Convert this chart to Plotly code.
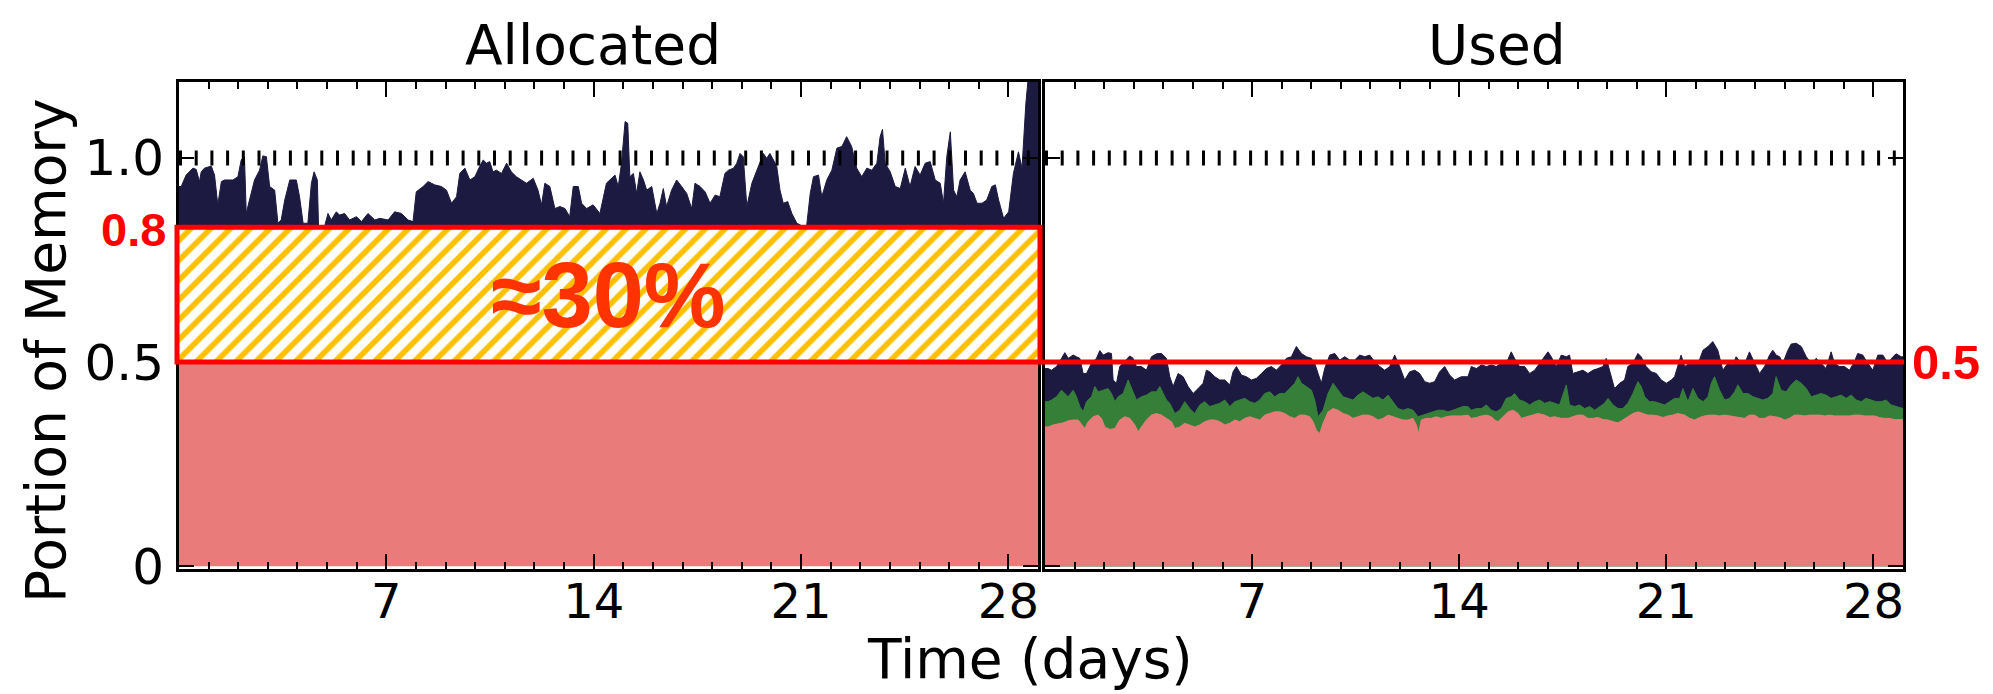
import plotly.graph_objects as go

# ---------------- data ----------------
# Allocated panel: total allocated memory (navy)
ALLOC_DAYS = [0.0, 0.075, 0.24, 0.47, 0.58, 0.69, 0.75, 0.86, 1.09, 1.20, 1.31,
              1.43, 1.54, 1.82, 1.99, 2.10, 2.21, 2.27, 2.38, 2.55, 2.72,
              2.83, 2.95, 3.06, 3.23, 3.34, 3.45, 3.57, 3.74, 3.96, 4.07,
              4.19, 4.35, 4.47, 4.56, 4.67, 4.71, 4.92, 5.03, 5.14, 5.31,
              5.42, 5.59, 5.76, 5.99, 6.16, 6.38, 6.61, 6.78, 7.06, 7.28,
              7.51, 7.73, 7.90, 8.01, 8.24, 8.41, 8.63, 8.86, 9.03, 9.20,
              9.37, 9.48, 9.65, 9.82, 9.99, 10.15, 10.27, 10.38, 10.49, 10.60,
              10.72, 10.89, 11.06, 11.22, 11.39, 11.56, 11.73, 11.96, 12.12, 12.24,
              12.35, 12.52, 12.69, 12.86, 13.03, 13.19, 13.31, 13.48, 13.59, 13.76,
              13.98, 14.21, 14.43,
              14.72, 14.83, 14.94, 15.06, 15.15, 15.22, 15.34, 15.45, 15.56, 15.68,
              15.79, 15.96, 16.13, 16.24, 16.35, 16.46, 16.63, 16.80, 16.97, 17.14,
              17.31, 17.42, 17.59, 17.76, 17.93, 18.10, 18.26, 18.43, 18.55, 18.72,
              18.83, 18.94, 19.05, 19.17, 19.34, 19.50, 19.62, 19.73, 19.84, 19.95,
              20.07, 20.18, 20.29, 20.40, 20.55, 20.69, 20.86, 21.02, 21.19, 21.31,
              21.42, 21.59, 21.70, 21.87, 22.04, 22.21, 22.38, 22.54, 22.71, 22.88,
              23.05, 23.22, 23.39, 23.56, 23.67, 23.75, 23.84, 24.01, 24.18, 24.35,
              24.52, 24.68, 24.85, 25.02, 25.19, 25.36, 25.53, 25.70, 25.81, 25.92,
              26.04, 26.15, 26.26, 26.37, 26.54, 26.71, 26.82, 26.94, 27.11, 27.27,
              27.44, 27.56, 27.67, 27.84, 28.01, 28.17, 28.34, 28.46, 28.59, 28.74,
              28.91, 29.0]
ALLOC_TOTAL = [0.930, 0.930, 0.958, 0.975, 0.972, 0.942, 0.966, 0.975, 0.980, 0.958, 0.885,
               0.942, 0.946, 0.946, 0.954, 0.995, 1.003, 0.864, 0.897, 0.946, 0.970,
               1.005, 1.003, 0.930, 0.921, 0.840, 0.848, 0.897, 0.946, 0.946, 0.905,
               0.840, 0.840, 0.938, 0.966, 0.946, 0.834, 0.834, 0.864, 0.848, 0.868,
               0.860, 0.864, 0.848, 0.856, 0.844, 0.864, 0.848, 0.852, 0.848, 0.868,
               0.864, 0.848, 0.844, 0.917, 0.930, 0.942, 0.934, 0.930, 0.921, 0.889,
               0.905, 0.962, 0.975, 0.946, 0.954, 0.979, 0.995, 0.987, 0.991, 0.966,
               0.970, 0.962, 0.987, 0.966, 0.954, 0.946, 0.938, 0.950, 0.921, 0.885,
               0.938, 0.930, 0.876, 0.881, 0.876, 0.856, 0.930, 0.930, 0.889, 0.876,
               0.885, 0.864, 0.938,
               0.958, 0.930, 0.987, 1.089, 1.085, 0.954, 0.962, 0.913, 0.966, 0.946,
               0.921, 0.930, 0.864, 0.889, 0.925, 0.881, 0.921, 0.946, 0.930, 0.913,
               0.876, 0.938, 0.930, 0.917, 0.889, 0.909, 0.905, 0.962, 0.970, 0.975,
               0.987, 1.011, 1.003, 0.881, 0.938, 0.966, 0.991, 1.011, 0.999, 1.011,
               0.995, 0.979, 0.921, 0.889, 0.893, 0.864, 0.840, 0.834, 0.834, 0.913,
               0.954, 0.958, 0.905, 0.946, 0.970, 1.024, 1.028, 1.052, 1.028, 0.975,
               0.954, 0.975, 0.970, 0.987, 1.052, 1.070, 0.987, 0.966, 0.930, 0.925,
               0.975, 0.930, 0.979, 0.958, 0.987, 0.991, 0.946, 0.938, 0.889, 1.003,
               1.064, 0.921, 0.905, 0.946, 0.966, 0.921, 0.913, 0.889, 0.889, 0.897,
               0.930, 0.934, 0.897, 0.852, 0.868, 0.962, 1.015, 0.975, 1.134, 1.25,
               1.25, 1.25]
# Allocated panel: lower (pink) band
ALLOC_BASE_DAYS = [0.0, 29.0]
ALLOC_BASE = [0.5, 0.5]

# Used panel: total (navy)
USED_TOTAL_DAYS = [0.0,
    0.107, 0.220, 0.389, 0.558, 0.670, 0.783, 0.952, 1.064, 1.177, 1.290,
    1.402, 1.571, 1.740, 1.853, 1.965, 2.134, 2.247, 2.303, 2.416, 2.528,
    2.697, 2.866, 2.979, 3.091, 3.260, 3.429, 3.598, 3.767, 3.936, 4.105,
    4.218, 4.330, 4.499, 4.668, 4.837, 5.006, 5.175, 5.344, 5.456, 5.569,
    5.738, 5.907, 6.076, 6.245, 6.357, 6.470, 6.639, 6.808, 6.977, 7.146,
    7.315, 7.483, 7.652, 7.821, 7.990, 8.159, 8.328, 8.497, 8.666, 8.835,
    9.004, 9.116, 9.229, 9.341, 9.454, 9.623, 9.792, 9.961, 10.130, 10.299,
    10.468, 10.637, 10.806, 10.974, 11.143, 11.312, 11.481, 11.650, 11.819, 11.988,
    12.157, 12.326, 12.495, 12.664, 12.833, 13.001, 13.170, 13.339, 13.508, 13.677,
    13.846, 14.071, 14.296,
    14.41, 14.58, 14.75, 14.92, 15.09, 15.25, 15.42, 15.59, 15.70, 15.76,
    15.87, 16.04, 16.21, 16.38, 16.55, 16.72, 16.89, 17.00, 17.11, 17.28,
    17.45, 17.62, 17.73, 17.84, 18.01, 18.18, 18.35, 18.52, 18.69, 18.86,
    18.97, 19.08, 19.25, 19.42, 19.59, 19.70, 19.87, 20.04, 20.15, 20.32,
    20.49, 20.66, 20.83, 21.00, 21.17, 21.28, 21.39, 21.50, 21.62, 21.79,
    21.96, 22.12, 22.24, 22.41, 22.57, 22.74, 22.91, 23.08, 23.25, 23.36,
    23.53, 23.70, 23.81, 23.98, 24.15, 24.32, 24.49, 24.60, 24.71, 24.83,
    24.94, 25.11, 25.22, 25.39, 25.56, 25.73, 25.90, 26.07, 26.23, 26.40,
    26.57, 26.68, 26.85, 27.02, 27.19, 27.36, 27.47, 27.64, 27.81, 27.98,
    28.15, 28.32, 28.49, 28.66, 28.77, 28.94, 29.0]
USED_TOTAL = [0.484,
    0.484, 0.480, 0.489, 0.509, 0.523, 0.509, 0.517, 0.513, 0.509, 0.472,
    0.472, 0.497, 0.509, 0.528, 0.517, 0.523, 0.521, 0.456, 0.448, 0.489,
    0.501, 0.515, 0.509, 0.489, 0.489, 0.480, 0.513, 0.520, 0.521, 0.509,
    0.464, 0.440, 0.472, 0.464, 0.440, 0.423, 0.435, 0.448, 0.480, 0.476,
    0.464, 0.456, 0.456, 0.444, 0.476, 0.489, 0.468, 0.464, 0.456, 0.460,
    0.472, 0.484, 0.489, 0.480, 0.493, 0.509, 0.513, 0.538, 0.521, 0.513,
    0.509, 0.497, 0.472, 0.448, 0.484, 0.517, 0.521, 0.505, 0.513, 0.505,
    0.505, 0.517, 0.513, 0.517, 0.501, 0.489, 0.480, 0.489, 0.517, 0.489,
    0.456, 0.476, 0.480, 0.472, 0.452, 0.448, 0.452, 0.476, 0.489, 0.468,
    0.456, 0.464, 0.464,
    0.489, 0.484, 0.493, 0.489, 0.493, 0.489, 0.497, 0.497, 0.517, 0.525,
    0.509, 0.489, 0.489, 0.472, 0.480, 0.497, 0.517, 0.525, 0.513, 0.489,
    0.517, 0.513, 0.517, 0.472, 0.476, 0.480, 0.472, 0.480, 0.484, 0.489,
    0.509, 0.480, 0.435, 0.448, 0.456, 0.489, 0.497, 0.521, 0.513, 0.489,
    0.476, 0.472, 0.456, 0.448, 0.456, 0.464, 0.489, 0.517, 0.489, 0.497,
    0.497, 0.505, 0.529, 0.538, 0.550, 0.529, 0.480, 0.497, 0.493, 0.513,
    0.497, 0.505, 0.525, 0.497, 0.472, 0.489, 0.517, 0.529, 0.517, 0.513,
    0.497, 0.529, 0.544, 0.546, 0.538, 0.513, 0.497, 0.509, 0.497, 0.484,
    0.525, 0.497, 0.489, 0.489, 0.480, 0.501, 0.521, 0.517, 0.497, 0.480,
    0.517, 0.517, 0.497, 0.513, 0.520, 0.513, 0.513]

# Used panel: middle (green) band top
USED_MID_DAYS = [0.0,
    0.107, 0.220, 0.389, 0.558, 0.670, 0.783, 0.952, 1.064, 1.177, 1.290,
    1.402, 1.571, 1.684, 1.796, 1.965, 2.134, 2.247, 2.359, 2.472, 2.641,
    2.810, 2.922, 3.091, 3.260, 3.429, 3.598, 3.767, 3.880, 3.992, 4.105,
    4.218, 4.387, 4.555, 4.724, 4.893, 5.062, 5.231, 5.400, 5.569, 5.738,
    5.907, 6.076, 6.245, 6.414, 6.583, 6.752, 6.920, 7.089, 7.258, 7.427,
    7.596, 7.765, 7.934, 8.103, 8.272, 8.441, 8.553, 8.666, 8.835, 9.004,
    9.116, 9.229, 9.398, 9.567, 9.736, 9.905, 10.074, 10.243, 10.411, 10.580,
    10.749, 10.918, 11.087, 11.256, 11.425, 11.594, 11.763, 11.932, 12.100, 12.269,
    12.438, 12.607, 12.776, 12.945, 13.114, 13.283, 13.452, 13.621, 13.790, 13.959,
    14.128, 14.296,
    14.41, 14.58, 14.75, 14.92, 15.09, 15.25, 15.42, 15.59, 15.76, 15.87,
    16.04, 16.21, 16.38, 16.55, 16.72, 16.89, 17.06, 17.23, 17.39, 17.62,
    17.73, 17.90, 18.07, 18.24, 18.41, 18.58, 18.75, 18.91, 19.03, 19.20,
    19.37, 19.53, 19.70, 19.87, 20.04, 20.15, 20.27, 20.43, 20.60, 20.77,
    20.94, 21.11, 21.28, 21.45, 21.56, 21.73, 21.90, 22.07, 22.24, 22.41,
    22.52, 22.63, 22.80, 22.97, 23.14, 23.31, 23.42, 23.59, 23.76, 23.93,
    24.09, 24.26, 24.43, 24.60, 24.71, 24.88, 25.05, 25.22, 25.39, 25.56,
    25.73, 25.90, 26.07, 26.23, 26.40, 26.57, 26.74, 26.91, 27.08, 27.25,
    27.42, 27.59, 27.75, 27.92, 28.09, 28.26, 28.43, 28.60, 28.77, 28.94,
    29.0]
USED_MID = [0.403,
    0.403, 0.407, 0.415, 0.431, 0.423, 0.415, 0.431, 0.415, 0.391, 0.378,
    0.403, 0.415, 0.440, 0.427, 0.431, 0.435, 0.423, 0.403, 0.415, 0.423,
    0.456, 0.435, 0.407, 0.415, 0.419, 0.427, 0.427, 0.440, 0.423, 0.407,
    0.399, 0.374, 0.382, 0.403, 0.386, 0.374, 0.395, 0.403, 0.391, 0.395,
    0.399, 0.407, 0.391, 0.403, 0.407, 0.411, 0.403, 0.399, 0.407, 0.423,
    0.427, 0.415, 0.423, 0.423, 0.435, 0.448, 0.464, 0.448, 0.440, 0.431,
    0.407, 0.366, 0.382, 0.423, 0.448, 0.431, 0.415, 0.411, 0.407, 0.419,
    0.427, 0.419, 0.411, 0.415, 0.407, 0.419, 0.403, 0.386, 0.382, 0.386,
    0.382, 0.366, 0.370, 0.374, 0.378, 0.382, 0.382, 0.378, 0.382, 0.386,
    0.391, 0.391,
    0.382, 0.386, 0.386, 0.395, 0.382, 0.378, 0.386, 0.411, 0.415, 0.423,
    0.407, 0.403, 0.395, 0.403, 0.407, 0.399, 0.403, 0.399, 0.395, 0.444,
    0.395, 0.391, 0.395, 0.386, 0.391, 0.382, 0.391, 0.399, 0.411, 0.395,
    0.386, 0.386, 0.399, 0.423, 0.452, 0.440, 0.415, 0.403, 0.403, 0.399,
    0.395, 0.403, 0.411, 0.411, 0.435, 0.403, 0.435, 0.411, 0.403, 0.415,
    0.448, 0.464, 0.431, 0.407, 0.411, 0.427, 0.444, 0.423, 0.423, 0.415,
    0.411, 0.407, 0.411, 0.423, 0.464, 0.431, 0.427, 0.444, 0.456, 0.448,
    0.435, 0.415, 0.419, 0.423, 0.419, 0.411, 0.415, 0.419, 0.411, 0.419,
    0.407, 0.403, 0.411, 0.407, 0.403, 0.403, 0.407, 0.395, 0.391, 0.386,
    0.386]

# Used panel: lower (pink) band top
USED_LOW_DAYS = [0.0,
    0.107, 0.276, 0.445, 0.614, 0.783, 0.952, 1.121, 1.233, 1.346, 1.459,
    1.627, 1.796, 1.909, 2.022, 2.191, 2.359, 2.528, 2.697, 2.866, 3.035,
    3.148, 3.260, 3.429, 3.598, 3.767, 3.936, 4.105, 4.274, 4.387, 4.555,
    4.724, 4.893, 5.062, 5.231, 5.400, 5.569, 5.738, 5.907, 6.076, 6.245,
    6.414, 6.583, 6.752, 6.920, 7.089, 7.258, 7.427, 7.596, 7.765, 7.934,
    8.103, 8.272, 8.441, 8.610, 8.779, 8.947, 9.060, 9.173, 9.285, 9.398,
    9.567, 9.736, 9.905, 10.074, 10.243, 10.411, 10.580, 10.749, 10.918, 11.087,
    11.256, 11.425, 11.594, 11.763, 11.932, 12.100, 12.269, 12.438, 12.551, 12.630,
    12.720, 12.889, 13.058, 13.227, 13.396, 13.564, 13.733, 13.902, 14.071, 14.296,
    14.41, 14.58, 14.75, 14.92, 15.09, 15.20, 15.31, 15.48, 15.65, 15.82,
    15.99, 16.10, 16.27, 16.44, 16.66, 16.89, 17.06, 17.23, 17.45, 17.68,
    17.84, 18.01, 18.18, 18.35, 18.52, 18.69, 18.86, 19.03, 19.20, 19.37,
    19.53, 19.70, 19.87, 20.04, 20.21, 20.38, 20.55, 20.72, 20.89, 21.05,
    21.22, 21.39, 21.62, 21.79, 21.96, 22.12, 22.29, 22.46, 22.63, 22.80,
    22.97, 23.14, 23.31, 23.48, 23.64, 23.81, 23.98, 24.15, 24.32, 24.49,
    24.66, 24.83, 25.00, 25.16, 25.33, 25.50, 25.67, 25.84, 26.01, 26.18,
    26.35, 26.52, 26.68, 26.85, 27.02, 27.19, 27.36, 27.53, 27.70, 27.87,
    28.04, 28.20, 28.37, 28.54, 28.71, 28.94, 29.0]
USED_LOW = [0.341,
    0.341, 0.346, 0.348, 0.351, 0.356, 0.358, 0.358, 0.346, 0.337, 0.354,
    0.366, 0.370, 0.362, 0.341, 0.335, 0.337, 0.358, 0.366, 0.362, 0.346,
    0.329, 0.341, 0.358, 0.370, 0.374, 0.370, 0.362, 0.354, 0.337, 0.341,
    0.350, 0.346, 0.341, 0.346, 0.354, 0.358, 0.358, 0.354, 0.346, 0.350,
    0.358, 0.354, 0.362, 0.366, 0.362, 0.358, 0.370, 0.374, 0.378, 0.378,
    0.374, 0.366, 0.362, 0.370, 0.370, 0.366, 0.354, 0.333, 0.325, 0.350,
    0.378, 0.386, 0.382, 0.374, 0.370, 0.362, 0.366, 0.370, 0.370, 0.366,
    0.358, 0.362, 0.370, 0.366, 0.362, 0.358, 0.358, 0.362, 0.346, 0.325,
    0.358, 0.362, 0.362, 0.366, 0.362, 0.366, 0.368, 0.368, 0.368, 0.370,
    0.362, 0.364, 0.368, 0.370, 0.366, 0.358, 0.354, 0.366, 0.378, 0.382,
    0.374, 0.362, 0.366, 0.370, 0.374, 0.370, 0.364, 0.366, 0.362, 0.362,
    0.366, 0.370, 0.370, 0.362, 0.362, 0.364, 0.359, 0.358, 0.354, 0.351,
    0.358, 0.366, 0.374, 0.378, 0.374, 0.370, 0.370, 0.368, 0.364, 0.368,
    0.370, 0.374, 0.370, 0.362, 0.358, 0.364, 0.368, 0.370, 0.370, 0.368,
    0.370, 0.368, 0.366, 0.364, 0.362, 0.370, 0.370, 0.362, 0.362, 0.368,
    0.366, 0.364, 0.358, 0.362, 0.370, 0.370, 0.368, 0.370, 0.370, 0.370,
    0.368, 0.370, 0.368, 0.368, 0.368, 0.368, 0.370, 0.370, 0.368, 0.368,
    0.368, 0.364, 0.362, 0.362, 0.359, 0.359, 0.359]

# annotation values
BOX_BOTTOM = 0.5
BOX_TOP = 0.83
CAPACITY = 1.0
USED_MARK = 0.5
X_TICKS = [7, 14, 21, 28]
Y_TICKS = [0, 0.5, 1.0]
Y_TICK_TEXT = ["0", "0.5", "1.0"]
DAY_MAX = 29.0

NAVY = "#1c1a40"
GREEN = "#357f39"
PINK = "#e97c7a"
HATCH = "#ffc000"
RED = "#ff0000"
TXT_RED = "#ff3300"

# ---------------- geometry (page has an 8px body margin) ----------------
OFF = 8
W, H = 1993 - OFF, 694 - OFF
ML, MT = 179 - OFF, 82 - OFF
PW, PH = 1724, 487
MR = W - ML - PW
MB = H - MT - PH


def px(xpix):  # reference-screenshot pixel x -> paper x
    return (xpix - OFF - ML) / PW


def py(ypix):  # reference-screenshot pixel y -> paper y
    return (MT + PH - (ypix - OFF)) / PH


fig = go.Figure()

# Allocated panel
fig.add_trace(go.Scatter(x=[0, DAY_MAX], y=[BOX_TOP, BOX_TOP], mode="lines",
                         line=dict(width=0, color=NAVY), hoverinfo="skip",
                         xaxis="x", yaxis="y", showlegend=False))
fig.add_trace(go.Scatter(x=ALLOC_DAYS, y=ALLOC_TOTAL, mode="lines", fill="tonexty",
                         fillcolor=NAVY, line=dict(width=1, color=NAVY),
                         xaxis="x", yaxis="y", showlegend=False))
fig.add_trace(go.Scatter(x=ALLOC_BASE_DAYS, y=ALLOC_BASE, mode="lines", fill="tozeroy",
                         fillcolor=PINK, line=dict(width=0, color=PINK),
                         xaxis="x", yaxis="y", showlegend=False))
fig.add_trace(go.Bar(x=[DAY_MAX / 2], y=[BOX_TOP - BOX_BOTTOM], base=[BOX_BOTTOM],
                     width=[DAY_MAX],
                     marker=dict(color="white", line=dict(width=0),
                                 pattern=dict(shape="/", fgcolor=HATCH, bgcolor="white",
                                              size=14, solidity=0.4, fillmode="replace")),
                     xaxis="x", yaxis="y", showlegend=False, hoverinfo="skip"))

# Used panel
fig.add_trace(go.Scatter(x=USED_TOTAL_DAYS, y=USED_TOTAL, mode="lines", fill="tozeroy",
                         fillcolor=NAVY, line=dict(width=1, color=NAVY),
                         xaxis="x2", yaxis="y2", showlegend=False))
fig.add_trace(go.Scatter(x=USED_MID_DAYS, y=USED_MID, mode="lines", fill="tozeroy",
                         fillcolor=GREEN, line=dict(width=1, color=GREEN),
                         xaxis="x2", yaxis="y2", showlegend=False))
fig.add_trace(go.Scatter(x=USED_LOW_DAYS, y=USED_LOW, mode="lines", fill="tozeroy",
                         fillcolor=PINK, line=dict(width=1, color=PINK),
                         xaxis="x2", yaxis="y2", showlegend=False))

xtickfont = dict(family="DejaVu Sans", size=48, color="black")
ytickfont = dict(family="DejaVu Sans", size=50, color="black")
xcommon = dict(range=[0, DAY_MAX], tickmode="array", tickvals=X_TICKS,
               ticks="inside", ticklen=15, tickwidth=2, tickcolor="black",
               showline=True, linewidth=3, linecolor="black", mirror="allticks",
               showgrid=False, zeroline=False, tickfont=xtickfont, ticklabelstandoff=-12,
               minor=dict(tickmode="linear", tick0=0, dtick=1, ticks="inside",
                          ticklen=7, tickwidth=2, tickcolor="black", showgrid=False))
ycommon = dict(range=[-0.007, 1.186], tickmode="array", tickvals=Y_TICKS,
               ticktext=Y_TICK_TEXT, ticks="inside", ticklen=15, tickwidth=2,
               tickcolor="black", showline=True, linewidth=3, linecolor="black",
               mirror="allticks", showgrid=False, zeroline=False, tickfont=ytickfont,
               ticklabelstandoff=2)

fig.update_layout(
    width=W, height=H,
    margin=dict(l=ML, r=MR, t=MT, b=MB, pad=0),
    paper_bgcolor="white", plot_bgcolor="white",
    showlegend=False, bargap=0,
    xaxis=dict(domain=[0, px(1038)], anchor="y", **xcommon),
    xaxis2=dict(domain=[px(1045), 1], anchor="y2", **xcommon),
    yaxis=dict(domain=[0, 1], anchor="x", **ycommon),
    yaxis2=dict(domain=[0, 1], anchor="x2", showticklabels=False, **ycommon),
)

shapes = [
    # hatched box border
    dict(type="rect", xref="paper", yref="y", x0=px(177), x1=px(1040),
         y0=BOX_BOTTOM, y1=BOX_TOP, line=dict(color=RED, width=5),
         fillcolor="rgba(0,0,0,0)", layer="above"),
    # red line at 0.5 in the Used panel
    dict(type="line", xref="paper", yref="y2", x0=px(1040), x1=px(1904),
         y0=USED_MARK, y1=USED_MARK, line=dict(color=RED, width=5), layer="above"),
    # capacity dashed line
    dict(type="line", xref="x domain", yref="y", x0=0, x1=1, y0=CAPACITY, y1=CAPACITY,
         line=dict(color="black", width=15, dash="3px,12.7px"), layer="above"),
    dict(type="line", xref="x2 domain", yref="y2", x0=0, x1=1, y0=CAPACITY, y1=CAPACITY,
         line=dict(color="black", width=15, dash="3px,12.7px"), layer="above"),
]
fig.update_layout(shapes=shapes)

title_font = dict(family="DejaVu Sans", size=55, color="black")
annotations = [
    dict(text="Allocated", xref="paper", yref="paper", x=px(593), y=py(45),
         xanchor="center", yanchor="middle", showarrow=False, font=title_font),
    dict(text="Used", xref="paper", yref="paper", x=px(1497), y=py(45),
         xanchor="center", yanchor="middle", showarrow=False, font=title_font),
    dict(text="Time (days)", xref="paper", yref="paper", x=px(1030), y=py(659),
         xanchor="center", yanchor="middle", showarrow=False, font=title_font),
    dict(text="Portion of Memory", xref="paper", yref="paper", x=px(46), y=py(351),
         xanchor="center", yanchor="middle", showarrow=False, textangle=-90,
         font=title_font),
    dict(text="≈30%", xref="x", yref="y", x=14.5, y=0.665,
         xanchor="center", yanchor="middle", showarrow=False,
         font=dict(family="Liberation Sans", size=92, color=TXT_RED, weight="bold")),
    dict(text="0.8", xref="paper", yref="y", x=px(168), y=0.824,
         xanchor="right", yanchor="middle", showarrow=False,
         font=dict(family="Liberation Sans", size=47, color=RED, weight="bold")),
    dict(text="0.5", xref="paper", yref="y2", x=px(1910), y=USED_MARK,
         xanchor="left", yanchor="middle", showarrow=False,
         font=dict(family="Liberation Sans", size=49, color=RED, weight="bold")),
]
fig.update_layout(annotations=annotations)

fig.write_html("out.html")
